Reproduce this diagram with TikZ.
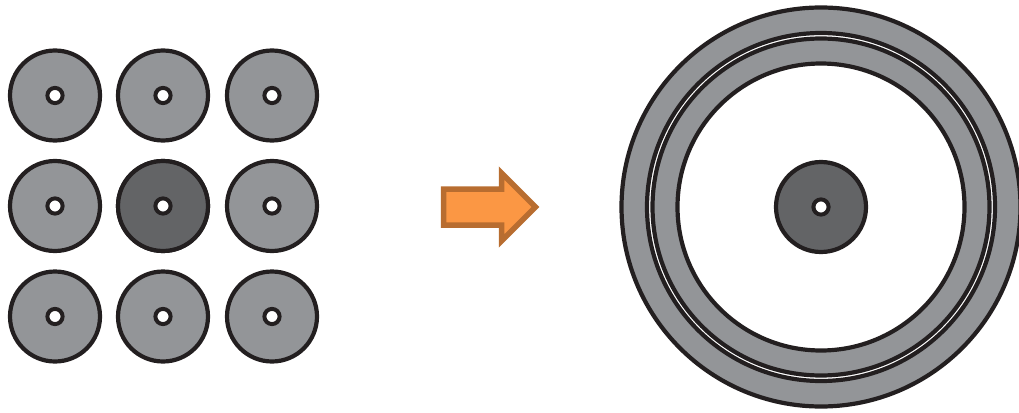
\documentclass[tikz,border=0pt]{standalone}
\definecolor{ringgray}{RGB}{147,149,152}
\definecolor{darkdisk}{RGB}{99,100,102}
\definecolor{inkline}{RGB}{35,31,32}
\definecolor{arrowfill}{RGB}{251,151,68}
\definecolor{arrowline}{RGB}{184,109,48}
\tikzset{
  x=1pt,y=-1pt,
  disk/.style={draw=inkline,line width=4.2pt,fill=ringgray},
  darkd/.style={draw=inkline,line width=4.2pt,fill=darkdisk},
  hole/.style={draw=inkline,line width=4pt,fill=white},
  ringline/.style={draw=inkline,line width=4.2pt}
}
\begin{document}
\begin{tikzpicture}
\useasboundingbox (0,0) rectangle (1019,412);
\foreach \x in {55,163,272}{\foreach \y in {95.5,206,316.5}{
  \draw[disk] (\x,\y) circle[radius=45];
  \draw[hole] (\x,\y) circle[radius=7.6];
}}
\draw[darkd] (163,206) circle[radius=45];
\draw[hole] (163,206) circle[radius=7.6];
\draw[draw=arrowline,fill=arrowfill,line width=5.5pt,miter limit=10]
  (443.5,189) -- (501.5,189) -- (501.5,173) -- (535.5,207) -- (501.5,241) -- (501.5,225) -- (443.5,225) -- cycle;
\draw[ringline,fill=ringgray] (821,207) circle[radius=199.5];
\draw[ringline,fill=white] (821,207) circle[radius=174];
\draw[ringline,fill=ringgray] (821,207) circle[radius=168.5];
\draw[ringline,fill=white] (821,207) circle[radius=143.5];
\draw[darkd] (821,207) circle[radius=45];
\draw[hole] (821,207) circle[radius=7.6];
\end{tikzpicture}
\end{document}
